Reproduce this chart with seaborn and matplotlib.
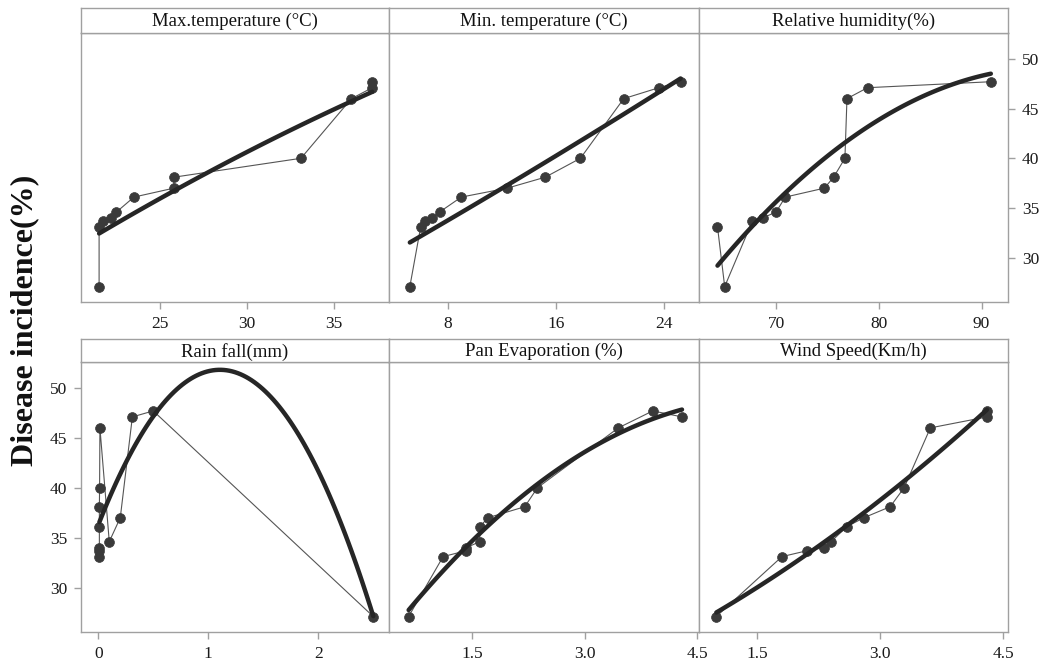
import numpy as np
import pandas as pd
import matplotlib
matplotlib.use("Agg")
import matplotlib.pyplot as plt
import seaborn as sns

# ---- data ----
incidence = [27.1, 33.1, 33.7, 34.0, 34.6, 36.1, 37.0, 38.1, 40.0, 46.0, 47.1, 47.7]
max_temp = [21.5, 21.5, 21.7, 22.2, 22.5, 23.5, 25.8, 25.8, 33.1, 36.0, 37.2, 37.2]
min_temp = [5.2, 6.0, 6.3, 6.8, 7.4, 9.0, 12.4, 15.2, 17.8, 21.0, 23.6, 25.2]
rel_humidity = [65.0, 64.3, 67.7, 68.7, 70.0, 70.9, 74.7, 75.6, 76.7, 76.9, 78.9, 90.9]
rain_fall = [2.50, 0.01, 0.01, 0.01, 0.10, 0.01, 0.20, 0.01, 0.012, 0.015, 0.31, 0.50]
pan_evap = [0.65, 1.11, 1.42, 1.42, 1.60, 1.60, 1.71, 2.20, 2.37, 3.45, 4.30, 3.91]
wind_speed = [1.00, 1.80, 2.11, 2.31, 2.40, 2.59, 2.80, 3.12, 3.29, 3.61, 4.30, 4.30]

titles = ["Max.temperature (°C)", "Min. temperature (°C)", "Relative humidity(%)",
          "Rain fall(mm)", "Pan Evaporation (%)", "Wind Speed(Km/h)"]
xtick_values = [[25, 30, 35], [8, 16, 24], [70, 80, 90],
                [0, 1, 2], [1.5, 3.0, 4.5], [1.5, 3.0, 4.5]]
xtick_labels = [["25", "30", "35"], ["8", "16", "24"], ["70", "80", "90"],
                ["0", "1", "2"], ["1.5", "3.0", "4.5"], ["1.5", "3.0", "4.5"]]
ytick_values = [30, 35, 40, 45, 50]
ytick_labels = ["30", "35", "40", "45", "50"]
y_label = "Disease incidence(%)"

series = [max_temp, min_temp, rel_humidity, rain_fall, pan_evap, wind_speed]

# ---- layout ----
sns.set_theme(style="white")
plt.rcParams["font.family"] = ["Liberation Serif", "DejaVu Serif"]

W, H = 1053, 663
fig = plt.figure(figsize=(W / 100, H / 100), dpi=100)
fig.patch.set_facecolor("white")

cols = [(81, 389), (389, 699), (699, 1008)]
rows = [(33, 302, 8), (362, 632, 339)]  # plot top, plot bottom, strip top
xlims = [(20.46, 38.16), (3.66, 26.56), (62.5, 92.57),
         (-0.157, 2.643), (0.388, 4.527), (0.789, 4.557)]
ylim = (25.55, 52.6)
spine_col = "#a0a0a0"

for i, xs in enumerate(series):
    r, c = divmod(i, 3)
    x0, x1 = cols[c]
    top, bot, stop = rows[r]
    ax = fig.add_axes([x0 / W, 1 - bot / H, (x1 - x0) / W, (bot - top) / H])
    st = fig.add_axes([x0 / W, 1 - top / H, (x1 - x0) / W, (top - stop) / H])

    df = pd.DataFrame({"x": xs, "y": incidence}).sort_values("x", kind="stable")
    ax.plot(df["x"], df["y"], color="#555555", lw=0.8, zorder=2)
    sns.scatterplot(data=df, x="x", y="y", ax=ax, color="#3a3a3a", s=50,
                    edgecolor="#3a3a3a", linewidth=0.5, zorder=3)
    sns.regplot(data=df, x="x", y="y", order=2, scatter=False, ci=None, ax=ax,
                line_kws=dict(color="#262626", lw=3.2, zorder=4))

    ax.set_xlim(*xlims[i])
    ax.set_ylim(*ylim)
    ax.set_xlabel("")
    ax.set_ylabel("")
    ax.set_xticks(xtick_values[i])
    ax.set_xticklabels(xtick_labels[i])
    ax.tick_params(axis="x", direction="out", length=5, width=1, color=spine_col,
                   labelsize=12.5, pad=5, labelcolor="#1a1a1a", bottom=True)
    if i == 2:
        ax.yaxis.tick_right()
        ax.set_yticks(ytick_values)
        ax.set_yticklabels(ytick_labels)
        ax.tick_params(axis="y", direction="out", length=5, width=1, color=spine_col,
                       labelsize=12.5, pad=5, labelcolor="#1a1a1a", right=True, left=False)
    elif i == 3:
        ax.set_yticks(ytick_values)
        ax.set_yticklabels(ytick_labels)
        ax.tick_params(axis="y", direction="out", length=5, width=1, color=spine_col,
                       labelsize=12.5, pad=5, labelcolor="#1a1a1a", left=True, right=False)
    else:
        ax.set_yticks([])
    for sp in ax.spines.values():
        sp.set_color(spine_col)
        sp.set_linewidth(1)
    ax.grid(False)

    st.set_xticks([])
    st.set_yticks([])
    for sp in st.spines.values():
        sp.set_color(spine_col)
        sp.set_linewidth(1)
    st.set_facecolor("white")
    st.text(0.5, 0.45, titles[i], ha="center", va="center", fontsize=13.5,
            color="#111111", transform=st.transAxes)

fig.text(25 / W, 1 - 320 / H, y_label, rotation=90, fontsize=23, fontweight="bold",
         ha="center", va="center", color="#111111")

fig.savefig("out.png", dpi=100, facecolor="white")
